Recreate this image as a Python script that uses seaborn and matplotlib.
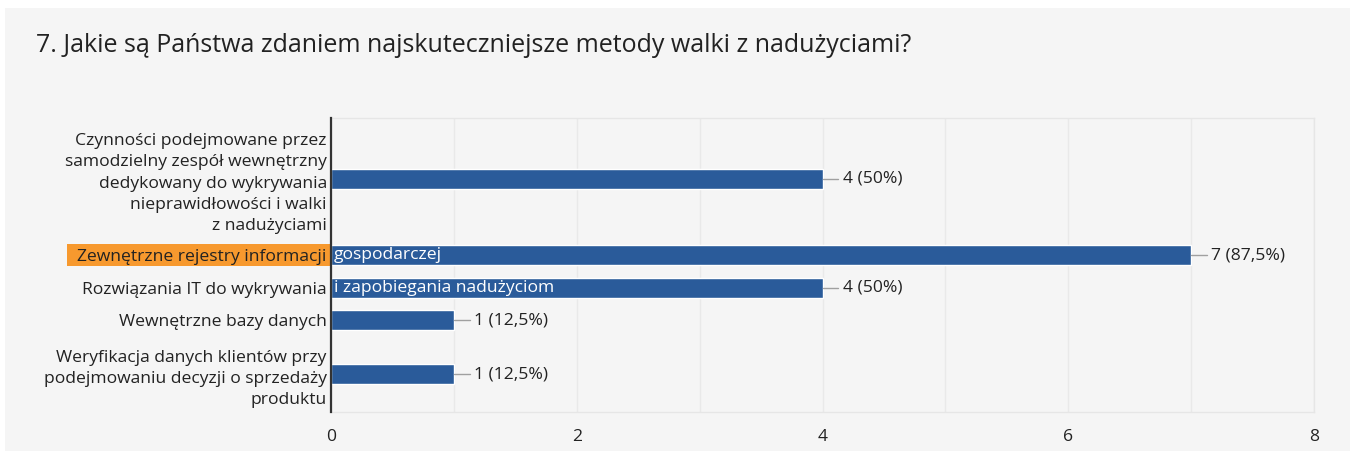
import matplotlib
matplotlib.use("Agg")
import matplotlib.pyplot as plt
import matplotlib.transforms as mtransforms
from matplotlib.patches import Rectangle
import seaborn as sns
import pandas as pd
import numpy as np

# Survey answers (question 7)
labels_left = [
    "Czynności podejmowane przez\nsamodzielny zespół wewnętrzny\ndedykowany do wykrywania\nnieprawidłowości i walki\nz nadużyciami",
    "Zewnętrzne rejestry informacji",
    "Rozwiązania IT do wykrywania",
    "Wewnętrzne bazy danych",
    "Weryfikacja danych klientów przy\npodejmowaniu decyzji o sprzedaży\nproduktu",
]
labels_overflow = ["", "gospodarczej", "i zapobiegania nadużyciom", "", ""]
counts = [4, 7, 4, 1, 1]
percents = ["50%", "87,5%", "50%", "12,5%", "12,5%"]
highlighted = 1

BAR = "#2a5b9a"
BG = "#f5f5f5"
TXT = "#222222"
ORANGE = "#f7992e"
FS = 12.6

# rows take as much room as their label has lines
gap = 0.47
pos = []
start = 0.0
for lab in labels_left:
    n = lab.count("\n") + 1
    pos.append(start + n / 2)
    start += n + gap

df = pd.DataFrame({"pos": pos, "count": counts})

sns.set_style("white")
plt.rcParams["font.family"] = ["Open Sans", "DejaVu Sans"]

fig = plt.figure(figsize=(13.52, 4.54), dpi=100, facecolor="white")
fig.patches.append(Rectangle((5 / 1352, 3 / 454), 1345 / 1352, 443 / 454,
                             transform=fig.transFigure, facecolor=BG,
                             edgecolor="none", zorder=-10))
ax = fig.add_axes([331 / 1352, 42 / 454, 983 / 1352, 294 / 454])
ax.set_facecolor(BG)

bar_units = 0.91
min_gap = np.min(np.diff(pos))
sns.barplot(data=df, x="count", y="pos", orient="h", native_scale=True,
            color=BAR, saturation=1, width=bar_units / min_gap, ax=ax, zorder=3)

ax.set_xlim(0, 8)
ax.set_ylim(13.09, -0.27)
ax.set_xticks(range(0, 9, 2))
ax.set_xticks(range(0, 9), minor=True)
ax.grid(True, which="both", axis="x", color="#e9e9e9", linewidth=1, zorder=0)
ax.set_axisbelow(True)

ax.set_yticks(pos)
ax.set_yticklabels(labels_left, fontsize=FS, color=TXT, linespacing=1.45, ha="right")
ax.tick_params(axis="y", length=0, pad=3)
ax.tick_params(axis="x", which="both", length=0, pad=12, labelsize=FS, labelcolor=TXT)
ax.set_xlabel("")
ax.set_ylabel("")

for s in ["top", "right", "bottom"]:
    ax.spines[s].set_color("#e6e6e6")
    ax.spines[s].set_linewidth(1)
ax.spines["left"].set_color("#333333")
ax.spines["left"].set_linewidth(1.6)
ax.spines["left"].set_zorder(5)

# orange highlight behind one label
trans = mtransforms.blended_transform_factory(fig.transFigure, ax.transData)
hp = pos[highlighted]
ax.add_patch(Rectangle((67 / 1352, hp - 0.5), (331 - 67) / 1352, 1.0,
                       transform=trans, facecolor=ORANGE, edgecolor="none",
                       clip_on=False, zorder=-1))

# label text running over into the bars
for p, extra in zip(pos, labels_overflow):
    if extra:
        ax.text(0.025, p, extra, color="white", fontsize=FS, va="center",
                ha="left", zorder=6)

# value labels with leader lines
for p, c, pct in zip(pos, counts, percents):
    ax.plot([c, c + 0.13], [p, p], color="#a0a0a0", linewidth=1, zorder=4)
    ax.text(c + 0.165, p, f"{c} ({pct})", fontsize=FS, color=TXT,
            va="center", ha="left", zorder=6)

fig.text(36 / 1352, 1 - 45 / 454,
         "7. Jakie są Państwa zdaniem najskuteczniejsze metody walki z nadużyciami?",
         fontsize=18, color=TXT, va="center", ha="left")

fig.savefig("out.png", dpi=100, facecolor="white")
